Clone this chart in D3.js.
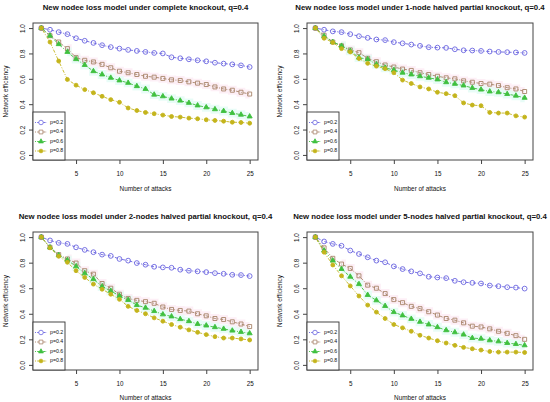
<!DOCTYPE html>
<html><head><meta charset="utf-8">
<script src="https://cdn.jsdelivr.net/npm/d3@7"></script>
<style>
body{margin:0;background:#fff}
svg{display:block}
text{font-family:"Liberation Sans",Arial,Helvetica,sans-serif;fill:#111}
</style></head>
<body><svg id="chart" width="550" height="402"></svg>
<script>
// ---------- data ----------
const attacks = [1,2,3,4,5,6,7,8,9,10,11,12,13,14,15,16,17,18,19,20,21,22,23,24,25];
const xTicks = [5,10,15,20,25];
const yTicks = [0,0.2,0.4,0.6,0.8,1.0];
const seriesLabels = ["p=0.2","p=0.4","p=0.6","p=0.8"];
const titles = [
  "New nodee loss model under complete knockout, q=0.4",
  "New nodee loss model under 1-node halved partial knockout, q=0.4",
  "New nodee loss model under 2-nodes halved partial knockout, q=0.4",
  "New nodee loss model under 5-nodes halved partial knockout, q=0.4"
];
const xLabel = "Number of attacks";
const yLabel = "Network efficiency";

// complete knockout
const complete_p02 = [1.0,0.987,0.968,0.952,0.92,0.90,0.883,0.865,0.85,0.838,0.828,0.82,0.812,0.804,0.80,0.77,0.762,0.754,0.746,0.738,0.727,0.72,0.714,0.706,0.693];
const complete_p04 = [1.0,0.94,0.89,0.838,0.767,0.746,0.733,0.714,0.687,0.66,0.648,0.634,0.62,0.613,0.603,0.592,0.587,0.576,0.566,0.555,0.536,0.52,0.51,0.494,0.48];
const complete_p06 = [1.0,0.94,0.873,0.812,0.755,0.709,0.66,0.634,0.608,0.587,0.568,0.542,0.52,0.475,0.462,0.444,0.428,0.41,0.39,0.375,0.36,0.346,0.33,0.317,0.303];
const complete_p08 = [1.0,0.89,0.74,0.595,0.55,0.515,0.49,0.462,0.436,0.415,0.37,0.35,0.335,0.325,0.314,0.303,0.298,0.29,0.285,0.277,0.272,0.266,0.258,0.256,0.25];
// 1-node halved partial knockout
const oneNode_p02 = [1.0,0.987,0.974,0.968,0.952,0.936,0.923,0.91,0.905,0.889,0.88,0.87,0.86,0.849,0.846,0.844,0.833,0.825,0.823,0.82,0.815,0.812,0.81,0.808,0.804];
const oneNode_p04 = [1.0,0.944,0.89,0.86,0.828,0.806,0.762,0.735,0.709,0.693,0.677,0.666,0.648,0.634,0.62,0.608,0.60,0.584,0.573,0.563,0.558,0.547,0.53,0.52,0.50];
const oneNode_p06 = [1.0,0.936,0.89,0.86,0.82,0.767,0.754,0.714,0.687,0.669,0.648,0.634,0.62,0.608,0.595,0.573,0.56,0.547,0.528,0.515,0.50,0.494,0.48,0.467,0.45];
const oneNode_p08 = [1.0,0.92,0.886,0.838,0.812,0.76,0.722,0.70,0.68,0.648,0.59,0.563,0.536,0.52,0.494,0.483,0.467,0.41,0.393,0.388,0.335,0.33,0.33,0.308,0.298];
// 2-nodes halved partial knockout
const twoNode_p02 = [1.0,0.974,0.955,0.947,0.92,0.90,0.882,0.863,0.853,0.829,0.816,0.797,0.784,0.768,0.763,0.76,0.745,0.737,0.732,0.726,0.718,0.713,0.705,0.703,0.695];
const twoNode_p04 = [1.0,0.92,0.863,0.829,0.797,0.737,0.71,0.637,0.60,0.553,0.52,0.505,0.495,0.482,0.453,0.434,0.426,0.421,0.40,0.384,0.363,0.355,0.337,0.32,0.30];
const twoNode_p06 = [1.0,0.92,0.858,0.82,0.771,0.716,0.671,0.613,0.579,0.54,0.508,0.468,0.447,0.421,0.395,0.379,0.358,0.342,0.32,0.308,0.295,0.282,0.268,0.258,0.247];
const twoNode_p08 = [1.0,0.916,0.85,0.803,0.737,0.684,0.632,0.592,0.553,0.513,0.458,0.426,0.40,0.368,0.342,0.316,0.295,0.274,0.255,0.237,0.221,0.21,0.21,0.203,0.195];
// 5-nodes halved partial knockout
const fiveNode_p02 = [1.0,0.966,0.947,0.932,0.895,0.868,0.842,0.816,0.803,0.771,0.75,0.732,0.716,0.69,0.684,0.679,0.658,0.647,0.642,0.637,0.621,0.616,0.608,0.605,0.597];
const fiveNode_p04 = [1.0,0.916,0.834,0.789,0.755,0.697,0.624,0.60,0.558,0.511,0.487,0.458,0.44,0.416,0.39,0.363,0.35,0.329,0.303,0.297,0.282,0.263,0.247,0.229,0.20];
const fiveNode_p06 = [1.0,0.895,0.816,0.75,0.69,0.632,0.547,0.505,0.461,0.413,0.387,0.36,0.337,0.316,0.295,0.271,0.255,0.237,0.21,0.205,0.192,0.184,0.171,0.163,0.153];
const fiveNode_p08 = [1.0,0.882,0.782,0.697,0.618,0.539,0.468,0.413,0.363,0.316,0.29,0.263,0.232,0.21,0.189,0.171,0.153,0.137,0.126,0.116,0.105,0.10,0.10,0.10,0.097];

const panelSeries = [
  [complete_p02, complete_p04, complete_p06, complete_p08],
  [oneNode_p02, oneNode_p04, oneNode_p06, oneNode_p08],
  [twoNode_p02, twoNode_p04, twoNode_p06, twoNode_p08],
  [fiveNode_p02, fiveNode_p04, fiveNode_p06, fiveNode_p08]
];

// ---------- styles / layout ----------
const colors = ["#6a64e0","#a8846a","#3fc03f","#c4b41c"];
const symbols = [d3.symbolCircle, d3.symbolSquare, d3.symbolTriangle, d3.symbolCircle];
const symSizes = [18, 16, 11, 12];
const filled = [false, false, true, true];
const bandColors = [null, "#fdebf4", "#e2fbf5", null];

const layouts = [
  {x0:33, x1:258, y0:23, y1:160, titleY:8, tickY:174, xTitleY:191},
  {x0:307, x1:533, y0:23, y1:160, titleY:8, tickY:174, xTitleY:191},
  {x0:33, x1:258, y0:232, y1:370, titleY:217, tickY:384, xTitleY:400},
  {x0:307, x1:533, y0:232, y1:370, titleY:217, tickY:384, xTitleY:400}
];

const svg = d3.select("#chart");

layouts.forEach((L, pi) => {
  const g = svg.append("g");
  const x = d3.scaleLinear().domain([1 - 0.96, 25 + 0.96]).range([L.x0, L.x1]);
  const y = d3.scaleLinear().domain([-0.04, 1.04]).range([L.y1, L.y0]);
  const series = panelSeries[pi];

  // faint bands
  series.forEach((vals, si) => {
    if (!bandColors[si]) return;
    g.append("path").datum(vals.slice(3)).attr("d", d3.area()
        .x((d,i)=>x(attacks[i+3])).y0(d=>y(d-0.035)).y1(d=>y(d+0.035)).curve(d3.curveStep))
      .attr("fill", bandColors[si]).attr("opacity", 0.8);
  });

  // lines
  series.forEach((vals, si) => {
    const line = d3.line().x((d,i)=>x(attacks[i])).y(d=>y(d));
    g.append("path").datum(vals).attr("d", line)
      .attr("fill","none").attr("stroke", colors[si]).attr("stroke-width", 0.9)
      .attr("stroke-dasharray","1,1.6,3.2,1.6");
  });
  // points
  series.forEach((vals, si) => {
    const sym = d3.symbol().type(symbols[si]).size(symSizes[si]);
    g.selectAll(null).data(vals).enter().append("path")
      .attr("transform",(d,i)=>`translate(${x(attacks[i])},${y(d)})`)
      .attr("d", sym)
      .attr("fill", filled[si] ? colors[si] : "#fff")
      .attr("fill-opacity", filled[si] ? 1 : 0)
      .attr("stroke", colors[si]).attr("stroke-width", 0.9);
  });

  // box
  g.append("rect").attr("x",L.x0).attr("y",L.y0).attr("width",L.x1-L.x0).attr("height",L.y1-L.y0)
    .attr("fill","none").attr("stroke","#444").attr("stroke-width",1);

  // x axis
  const xa = g.append("g").attr("transform",`translate(0,${L.y1})`)
    .call(d3.axisBottom(x).tickValues(xTicks).tickSize(4).tickPadding(5).tickFormat(d3.format("d")));
  xa.select(".domain").remove();
  xa.selectAll("line").attr("stroke","#444");
  xa.selectAll("text").attr("font-size",6.3).attr("fill","#222").attr("font-family",null)
    .attr("y", L.tickY - L.y1).attr("dy","0.35em");

  // y axis
  const ya = g.append("g").attr("transform",`translate(${L.x0},0)`)
    .call(d3.axisLeft(y).tickValues(yTicks).tickSize(4).tickFormat(d3.format(".1f")));
  ya.select(".domain").remove();
  ya.selectAll("line").attr("stroke","#444");
  ya.selectAll("text").attr("font-size",6.3).attr("fill","#222").attr("font-family",null)
    .attr("transform","rotate(-90)").attr("x",0).attr("y",-8).attr("dy",0)
    .attr("text-anchor","middle");

  // titles
  g.append("text").attr("x",(L.x0+L.x1)/2).attr("y",L.titleY).attr("text-anchor","middle")
    .attr("dominant-baseline","middle").attr("font-weight","bold").attr("font-size",7.8).text(titles[pi]);
  g.append("text").attr("x",(L.x0+L.x1)/2).attr("y",L.xTitleY).attr("text-anchor","middle")
    .attr("font-size",6.4).text(xLabel);
  const ym = (L.y0+L.y1)/2;
  g.append("text").attr("transform",`translate(${L.x0-27},${ym}) rotate(-90)`).attr("text-anchor","middle")
    .attr("dominant-baseline","middle").attr("font-size",6.4).text(yLabel);

  // legend
  const lg = g.append("g");
  lg.append("rect").attr("x",L.x0).attr("y",L.y1-48).attr("width",32).attr("height",48)
    .attr("fill","#fff").attr("stroke","#333").attr("stroke-width",0.9);
  seriesLabels.forEach((lab, si) => {
    const ly = L.y1 - 37.5 + si*9.5;
    lg.append("line").attr("x1",L.x0+2).attr("x2",L.x0+14).attr("y1",ly).attr("y2",ly)
      .attr("stroke",colors[si]).attr("stroke-width",0.9).attr("stroke-dasharray","1,1.2,2.5,1.2");
    lg.append("path").attr("transform",`translate(${L.x0+8},${ly})`)
      .attr("d", d3.symbol().type(symbols[si]).size(symSizes[si]*0.9)())
      .attr("fill", filled[si] ? colors[si] : "#fff").attr("stroke",colors[si]).attr("stroke-width",0.8);
    lg.append("text").attr("x",L.x0+17).attr("y",ly).attr("dominant-baseline","middle")
      .attr("font-size",5.2).attr("fill","#333").text(lab);
  });
});
</script>
</body></html>
